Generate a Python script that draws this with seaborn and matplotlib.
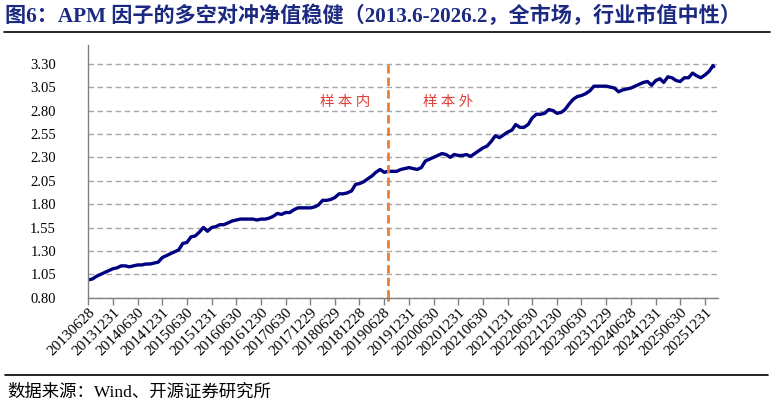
import matplotlib
matplotlib.use("Agg")
import matplotlib.pyplot as plt
import seaborn as sns
import pandas as pd

# ---- data ----
start_month = "2013-06"
values = [
    # 2013 Jun-Dec
    0.99, 1.00, 1.03, 1.05, 1.07, 1.09, 1.11,
    # 2014
    1.12, 1.14, 1.14, 1.13, 1.14, 1.15, 1.15, 1.16, 1.16, 1.17, 1.18, 1.23,
    # 2015
    1.25, 1.27, 1.29, 1.31, 1.38, 1.39, 1.45, 1.46, 1.50, 1.55, 1.51, 1.55,
    # 2016
    1.56, 1.58, 1.58, 1.60, 1.62, 1.63, 1.64, 1.64, 1.64, 1.64, 1.63, 1.64,
    # 2017
    1.64, 1.65, 1.67, 1.70, 1.69, 1.71, 1.71, 1.74, 1.76, 1.76, 1.76, 1.76,
    # 2018
    1.77, 1.79, 1.84, 1.84, 1.85, 1.87, 1.91, 1.91, 1.92, 1.94, 2.01, 2.02,
    # 2019
    2.04, 2.07, 2.10, 2.14, 2.17, 2.14, 2.15, 2.15, 2.15, 2.17, 2.18, 2.19,
    # 2020
    2.18, 2.17, 2.19, 2.26, 2.28, 2.30, 2.32, 2.34, 2.33, 2.30, 2.33, 2.32,
    # 2021
    2.32, 2.33, 2.31, 2.34, 2.37, 2.40, 2.42, 2.47, 2.53, 2.51, 2.54, 2.57,
    # 2022
    2.59, 2.65, 2.62, 2.62, 2.65, 2.72, 2.76, 2.76, 2.77, 2.81, 2.80, 2.77,
    # 2023
    2.78, 2.81, 2.87, 2.92, 2.95, 2.96, 2.98, 3.01, 3.06, 3.06, 3.06, 3.06,
    # 2024
    3.05, 3.04, 3.00, 3.02, 3.03, 3.04, 3.06, 3.08, 3.10, 3.11, 3.07, 3.12,
    # 2025
    3.14, 3.10, 3.16, 3.15, 3.12, 3.11, 3.15, 3.15, 3.20, 3.17, 3.15, 3.18,
    # 2026 Jan-Feb
    3.22, 3.28,
]
last_date = "2026-03-06"
last_value = 3.27
tick_labels = [
    "20130628", "20131231", "20140630", "20141231", "20150630", "20151231",
    "20160630", "20161230", "20170630", "20171229", "20180629", "20181228",
    "20190628", "20191231", "20200630", "20201231", "20210630", "20211231",
    "20220630", "20221230", "20230630", "20231229", "20240628", "20241231",
    "20250630", "20251231",
]
y_ticks = [0.80, 1.05, 1.30, 1.55, 1.80, 2.05, 2.30, 2.55, 2.80, 3.05, 3.30]
split_date = "2019-07-31"
title = "图6：APM 因子的多空对冲净值稳健（2013.6-2026.2，全市场，行业市值中性）"
source = "数据来源：Wind、开源证券研究所"

dates = pd.date_range(start_month, periods=len(values), freq="ME")
dates = dates.where(dates != pd.Timestamp("2013-06-30"), pd.Timestamp("2013-06-28"))
dates = dates.append(pd.DatetimeIndex([pd.Timestamp(last_date)]))
df = pd.DataFrame({"date": dates, "nav": values + [last_value]})

sns.set_theme(style="white")
plt.rcParams["font.family"] = ["Liberation Serif", "Noto Sans CJK SC", "DejaVu Sans"]
plt.rcParams["axes.unicode_minus"] = False

fig = plt.figure(figsize=(7.74, 4.05), dpi=100)
ax = fig.add_axes([88 / 774, 1 - 297.7 / 405, (718 - 88) / 774, (297.7 - 45) / 405])

sns.lineplot(data=df, x="date", y="nav", ax=ax, color="#000080", linewidth=2.4)

ax.set_ylim(0.80, 3.50)
ax.set_yticks(y_ticks)
ax.set_yticklabels([f"{v:.2f}" for v in y_ticks], fontsize=10.5, color="#000000")
ax.yaxis.grid(True, linestyle=(0, (4, 2.5)), color="#a6a6a6", linewidth=1.0)
ax.xaxis.grid(False)

tick_dates = pd.to_datetime(tick_labels, format="%Y%m%d")
ax.set_xticks(tick_dates)
ax.set_xticklabels(tick_labels, rotation=45, ha="right", rotation_mode="anchor",
                   fontsize=11, color="#000000")
ax.set_xlim(pd.Timestamp("2013-06-28"), pd.Timestamp("2026-04-06"))
ax.set_xlabel("")
ax.set_ylabel("")

for s in ["top", "right"]:
    ax.spines[s].set_visible(False)
for s in ["left", "bottom"]:
    ax.spines[s].set_color("#808080")
    ax.spines[s].set_linewidth(1.0)
ax.tick_params(axis="x", which="major", bottom=True, length=5, width=1, color="#808080", pad=1)
ax.tick_params(axis="y", left=False, pad=17)

ax.axvline(pd.Timestamp(split_date), color="#ED7D31", linestyle=(0, (3, 1.5)),
           linewidth=2.0, ymin=0, ymax=(3.32 - 0.80) / 2.70, clip_on=False)
ax.axvline(pd.Timestamp(split_date), color="#ED7D31", linestyle=(0, (3, 1.5)),
           linewidth=2.0, ymin=-0.015, ymax=0.0, clip_on=False)

cjk = ["Noto Sans CJK SC", "DejaVu Sans"]
fig.text(345 / 774, 1 - 102 / 405, "样 本 内", color="#E0403A", fontsize=10.5,
         family=cjk, ha="center", va="center")
fig.text(448 / 774, 1 - 102 / 405, "样 本 外", color="#E0403A", fontsize=10.5,
         family=cjk, ha="center", va="center")

fig.text(5 / 774, 1 - 16 / 405, title, color="#1B2A80", fontsize=15.2, fontweight="bold",
         family=["Liberation Serif", "Noto Sans CJK SC", "DejaVu Sans"],
         ha="left", va="center")
fig.add_artist(plt.Line2D([4 / 774, 770 / 774], [1 - 32 / 405, 1 - 32 / 405],
                          color="#000000", linewidth=1.2))
fig.add_artist(plt.Line2D([5 / 774, 768 / 774], [1 - 375 / 405, 1 - 375 / 405],
                          color="#000000", linewidth=1.2))
fig.text(7 / 774, 1 - 393 / 405, source, color="#000000", fontsize=12.5,
         family=["Liberation Serif", "Noto Sans CJK SC", "DejaVu Sans"],
         ha="left", va="center")

fig.savefig("out.png", dpi=100)
